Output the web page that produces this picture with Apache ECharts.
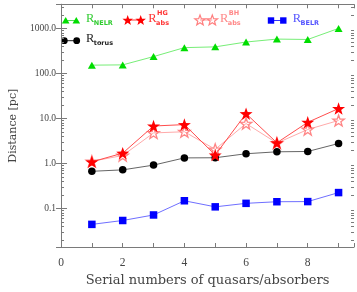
<!DOCTYPE html>
<html>
<head>
<meta charset="utf-8">
<script src="https://cdn.jsdelivr.net/npm/echarts@6/dist/echarts.min.js"></script>
<style>
html,body{margin:0;padding:0;background:#fff;}
#chart{width:357px;height:292px;}
</style>
</head>
<body>
<div id="chart"></div>
<script>
// ---- data ----
const serials = [1, 2, 3, 4, 5, 6, 7, 8, 9];
const rNELR  = [151, 153, 234, 370, 385, 493, 573, 562, 990];
const rAbsHG = [1.07, 1.67, 6.7, 7.2, 1.52, 12.6, 2.84, 8.1, 16.4];
const rAbsBH = [1.1, 1.48, 4.7, 5.0, 2.03, 7.6, 2.8, 5.6, 8.9];
const rBELR  = [0.0436, 0.0532, 0.0706, 0.146, 0.107, 0.128, 0.139, 0.14, 0.222];
const rTorus = [0.66, 0.71, 0.905, 1.31, 1.32, 1.62, 1.79, 1.82, 2.74];

const xTickValues = [0, 2, 4, 6, 8];
const xTickLabels = ['0', '2', '4', '6', '8'];
const yTickValues = [0.1, 1, 10, 100, 1000];
const yTickLabels = ['0.1', '1.0', '10.0', '100.0', '1000.0'];

const xMin = 0, xMax = 9.5;
const yMin = 0.0137, yMax = 3400;

// ---- helpers ----
function starPoints(cx, cy, R, r) {
  const pts = [];
  for (let i = 0; i < 10; i++) {
    const rad = (i % 2 === 0) ? R : r;
    const a = -Math.PI / 2 + i * Math.PI / 5;
    pts.push([cx + rad * Math.cos(a), cy + rad * Math.sin(a)]);
  }
  return pts;
}
const starPath = 'path://' + starPoints(0, 0, 10, 4).map((p, i) => (i ? 'L' : 'M') + p[0].toFixed(3) + ',' + p[1].toFixed(3)).join(' ') + ' Z';

function pairs(ys) { return serials.map((x, i) => [x, ys[i]]); }

// minor tick values for log axis (2..9 x 10^k)
const minorVals = [];
for (let k = -2; k <= 3; k++) {
  for (let m = 2; m <= 9; m++) {
    const v = m * Math.pow(10, k);
    if (v > yMin && v < yMax) minorVals.push(v);
  }
}

const frameColor = '#7a7a7a';
const textColor = '#444';

const chart = echarts.init(document.getElementById('chart'), null, {renderer: 'canvas'});

// ---- legend (graphic) ----
function legendItem(x1, x2, y, shape, color, lineColor, fill, textX, main, sub, sup, textCol) {
  const els = [];
  els.push({type: 'line', shape: {x1: x1, y1: y, x2: x2, y2: y}, style: {stroke: lineColor, lineWidth: 1}});
  [x1, x2].forEach(cx => {
    if (shape === 'triangle') {
      els.push({type: 'polygon', shape: {points: [[cx, y - 3.5], [cx + 3.8, y + 3], [cx - 3.8, y + 3]]}, style: {fill: color}});
    } else if (shape === 'star') {
      els.push({type: 'polygon', shape: {points: starPoints(cx, y + 0.5, 5.5, 2.3)},
        style: fill ? {fill: color} : {fill: 'none', stroke: color, lineWidth: 1.2}});
    } else if (shape === 'circle') {
      els.push({type: 'circle', shape: {cx: cx, cy: y, r: 3.4}, style: {fill: color}});
    } else if (shape === 'rect') {
      els.push({type: 'rect', shape: {x: cx - 3.2, y: y - 3.2, width: 6.4, height: 6.4}, style: {fill: color}});
    }
  });
  els.push({type: 'text', style: {text: main, x: textX, y: y - 1.5, fill: textCol, font: '12.5px "Liberation Serif"', verticalAlign: 'middle', align: 'left'}});
  if (sub) els.push({type: 'text', style: {text: sub, x: textX + 7.8, y: y + 3, fill: textCol, font: 'bold 6.5px "DejaVu Sans"', verticalAlign: 'middle', align: 'left'}});
  if (sup) els.push({type: 'text', style: {text: sup, x: textX + 8.8, y: y - 7, fill: textCol, font: 'bold 6.5px "DejaVu Sans"', verticalAlign: 'middle', align: 'left'}});
  return {type: 'group', silent: true, children: els};
}

const graphics = [
  legendItem(65.7, 76.3, 20.5, 'triangle', '#00dd00', '#55e055', true, 86, 'R', 'NELR', null, '#33cc33'),
  legendItem(127.7, 140.7, 20, 'star', '#ff0000', '#ff3333', true, 148.3, 'R', 'abs', 'HG', '#ff3333'),
  legendItem(200, 212.3, 20, 'star', '#ff8080', '#ff9999', false, 220, 'R', 'abs', 'BH', '#ff8888'),
  legendItem(271, 283.3, 20.5, 'rect', '#0000ff', '#3333ff', true, 292.7, 'R', 'BELR', null, '#5555ff'),
  legendItem(64.3, 76.7, 40.7, 'circle', '#000000', '#222', true, 86, 'R', 'torus', null, '#222')
];

const option = {
  animation: false,
  backgroundColor: '#fff',
  grid: {left: 54.4, right: 2.7, top: 4.3, bottom: 37.7, containLabel: false},
  xAxis: [{
    type: 'value', min: xMin, max: xMax, interval: 1, position: 'bottom',
    name: 'Serial numbers of quasars/absorbers', nameLocation: 'middle', nameGap: 27,
    nameTextStyle: {fontFamily: 'DejaVu Serif', fontSize: 13, color: textColor},
    axisLine: {show: true, lineStyle: {color: frameColor, width: 1}},
    axisTick: {show: true, inside: true, length: 4, lineStyle: {color: frameColor}},
    axisLabel: {show: true, margin: 10, fontFamily: 'Liberation Serif', fontSize: 11.5, color: textColor,
      showMaxLabel: true,
      formatter: v => { const i = xTickValues.indexOf(v); return i >= 0 ? xTickLabels[i] : ''; }},
    splitLine: {show: false}
  }, {
    type: 'value', min: xMin, max: xMax, interval: 1, position: 'top',
    axisLine: {show: true, lineStyle: {color: frameColor, width: 1}},
    axisTick: {show: true, inside: true, length: 4, lineStyle: {color: frameColor}},
    axisLabel: {show: false}, splitLine: {show: false}
  }],
  yAxis: [{
    type: 'log', logBase: 10, min: yMin, max: yMax, position: 'left',
    name: 'Distance [pc]', nameLocation: 'middle', nameGap: 36, nameRotate: 90,
    nameTextStyle: {fontFamily: 'DejaVu Serif', fontSize: 11, color: textColor},
    axisLine: {show: true, lineStyle: {color: frameColor, width: 1}},
    axisTick: {show: true, inside: true, length: 6, lineStyle: {color: frameColor}},
    axisLabel: {show: true, margin: 5, fontFamily: 'Liberation Serif', fontSize: 9.5, color: textColor,
      showMinLabel: false, showMaxLabel: false,
      formatter: v => {
        for (let i = 0; i < yTickValues.length; i++) {
          if (Math.abs(Math.log10(v) - Math.log10(yTickValues[i])) < 1e-6) return yTickLabels[i];
        }
        return '';
      }},
    splitLine: {show: false}
  }, {
    type: 'log', logBase: 10, min: yMin, max: yMax, position: 'right',
    axisLine: {show: true, lineStyle: {color: frameColor, width: 1}},
    axisTick: {show: true, inside: true, length: 5, lineStyle: {color: frameColor}},
    axisLabel: {show: false}, splitLine: {show: false}
  }],
  graphic: graphics,
  series: [
    {
      type: 'custom', name: 'minorTicks', silent: true, xAxisIndex: 0, yAxisIndex: 0,
      data: minorVals.map(v => [xMin, v]),
      renderItem: function (params, api) {
        const cs = params.coordSys;
        const y = Math.round(api.coord([xMin, api.value(1)])[1]) + 0.5;
        const st = {stroke: frameColor, lineWidth: 1};
        return {type: 'group', children: [
          {type: 'line', shape: {x1: cs.x, y1: y, x2: cs.x + 3, y2: y}, style: st},
          {type: 'line', shape: {x1: cs.x + cs.width, y1: y, x2: cs.x + cs.width - 3, y2: y}, style: st}
        ]};
      },
      z: 1
    },
    {
      type: 'line', name: 'R_BELR', data: pairs(rBELR),
      symbol: 'rect', symbolSize: 7.5, showSymbol: true,
      lineStyle: {color: '#6f6fff', width: 1}, itemStyle: {color: '#0000ff'}, z: 3
    },
    {
      type: 'line', name: 'R_torus', data: pairs(rTorus),
      symbol: 'circle', symbolSize: 7.5,
      lineStyle: {color: '#666', width: 1}, itemStyle: {color: '#000'}, z: 3
    },
    {
      type: 'line', name: 'R_NELR', data: pairs(rNELR),
      symbol: 'triangle', symbolSize: [8, 7],
      lineStyle: {color: '#77ee77', width: 1}, itemStyle: {color: '#00dd00'}, z: 3
    },
    {
      type: 'line', name: 'R_abs_BH', data: pairs(rAbsBH),
      symbol: starPath, symbolSize: [11.5, 11],
      lineStyle: {color: '#ffaaaa', width: 1},
      itemStyle: {color: 'rgba(255,255,255,0)', borderColor: '#ff8585', borderWidth: 1.3}, z: 4
    },
    {
      type: 'line', name: 'R_abs_HG', data: pairs(rAbsHG),
      symbol: starPath, symbolSize: [13, 12.5],
      lineStyle: {color: '#ff4d4d', width: 1},
      itemStyle: {color: '#ff0000'}, z: 5
    }
  ]
};
chart.setOption(option);
</script>
</body>
</html>
